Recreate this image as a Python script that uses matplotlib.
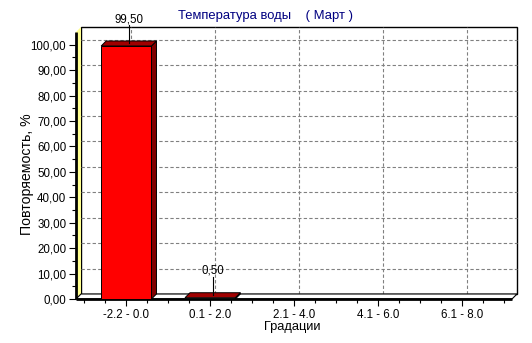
import matplotlib
matplotlib.use("Agg")
import matplotlib.pyplot as plt
from matplotlib.patches import Polygon, Rectangle
from matplotlib.ticker import FixedLocator, FuncFormatter

categories = ["-2.2 - 0.0", "0.1 - 2.0", "2.1 - 4.0", "4.1 - 6.0", "6.1 - 8.0"]
values = [99.5, 0.5, 0.0, 0.0, 0.0]
value_labels = ["99,50", "0,50", "", "", ""]
title = "Температура воды    ( Март )"
ylabel = "Повторяемость, %"
xlabel = "Градации"

plt.rcParams['font.family'] = ['Liberation Sans', 'DejaVu Sans']

W, H = 532, 343
fig = plt.figure(figsize=(W / 100, H / 100), dpi=100)
fig.patch.set_facecolor("white")

x0_px, x1_px = 76, 512
y0_px, ytop_px = 299, 32  # from top
ax = fig.add_axes([x0_px / W, (H - y0_px) / H, (x1_px - x0_px) / W, (y0_px - ytop_px) / H])
xmin, xmax = -0.6, 4.6
ymin, ymax = 0, 105
ax.set_xlim(xmin, xmax)
ax.set_ylim(ymin, ymax)
ax.patch.set_visible(False)
for s in ax.spines.values():
    s.set_visible(False)

# depth offset in data units (5 px)
depth_px = 5
dx = depth_px * (xmax - xmin) / (x1_px - x0_px)
dy = depth_px * (ymax - ymin) / (y0_px - ytop_px)

# back wall
ax.add_patch(Rectangle((xmin + dx, ymin + dy), xmax - xmin, ymax - ymin,
                       facecolor="white", edgecolor="black", lw=1.0, zorder=1, clip_on=False))
# grid on back wall
for yv in range(10, 101, 10):
    ax.plot([xmin + dx, xmax + dx], [yv + dy, yv + dy], color="#808080", lw=0.8,
            ls=(0, (3, 2)), zorder=2, clip_on=False)
for i in range(len(categories)):
    ax.plot([i + dx, i + dx], [ymin + dy, ymax + dy], color="#808080", lw=0.8,
            ls=(0, (3, 2)), zorder=2, clip_on=False)

# left wall (yellow)
ax.add_patch(Polygon([(xmin, ymin), (xmin + dx, ymin + dy), (xmin + dx, ymax + dy), (xmin, ymax)],
                     closed=True, facecolor="#FFFF90", edgecolor="none", zorder=3, clip_on=False))
# floor
ax.add_patch(Polygon([(xmin, ymin), (xmax, ymin), (xmax + dx, ymin + dy), (xmin + dx, ymin + dy)],
                     closed=True, facecolor="white", edgecolor="black", lw=0.8, zorder=3, clip_on=False))
ax.plot([xmin, xmax], [ymin, ymin], color="black", lw=2.0, zorder=4, clip_on=False, solid_capstyle="butt")
ax.plot([xmin, xmin], [ymin, ymax], color="black", lw=2.0, zorder=4, clip_on=False, solid_capstyle="butt")

# bars
bw = 0.6
for i, v in enumerate(values):
    if v <= 0:
        continue
    l, r = i - bw / 2, i + bw / 2
    ax.add_patch(Polygon([(r, 0), (r + dx, dy), (r + dx, v + dy), (r, v)], closed=True,
                         facecolor="#800000", edgecolor="black", lw=0.7, zorder=5, clip_on=False))
    ax.add_patch(Polygon([(l, v), (r, v), (r + dx, v + dy), (l + dx, v + dy)], closed=True,
                         facecolor="#A00000", edgecolor="black", lw=0.7, zorder=5, clip_on=False))
    if v > 1:
        ax.add_patch(Rectangle((l, 0), bw, v, facecolor="#FF0000", edgecolor="black",
                               lw=0.7, zorder=6, clip_on=False))
    ax.plot([i + dx / 2, i + dx / 2], [v + dy / 2, v + 8.3], color="black", lw=0.8, zorder=7, clip_on=False)
    ax.text(i + dx / 2, v + 10.6, value_labels[i], ha="center", va="center", fontsize=8.3,
            zorder=8, clip_on=False)

# ticks
ax.xaxis.set_major_locator(FixedLocator(range(len(categories))))
ax.set_xticklabels(categories)
ax.xaxis.set_minor_locator(FixedLocator([k * 0.25 for k in range(-2, 19) if k % 4 != 0]))
ax.yaxis.set_major_locator(FixedLocator(list(range(0, 101, 10))))
ax.yaxis.set_minor_locator(FixedLocator(list(range(5, 101, 10))))
ax.yaxis.set_major_formatter(FuncFormatter(lambda v, p: f"{v:.2f}".replace(".", ",")))
ax.tick_params(axis="both", which="major", direction="out", length=5, width=0.8, labelsize=8.3, colors="black")
ax.tick_params(axis="both", which="minor", direction="out", length=3, width=0.8)
ax.tick_params(axis="x", pad=2)
ax.tick_params(axis="y", pad=2)

fig.text(292 / W, 1 - 327 / H, xlabel, ha="center", va="center", fontsize=9.3)
fig.text(27 / W, 1 - 174 / H, ylabel, ha="center", va="center", fontsize=10.2, rotation=90)
fig.text(266 / W, 1 - 16 / H, title, ha="center", va="center", fontsize=9.4, color="#000080")

fig.savefig("out.png", dpi=100)
